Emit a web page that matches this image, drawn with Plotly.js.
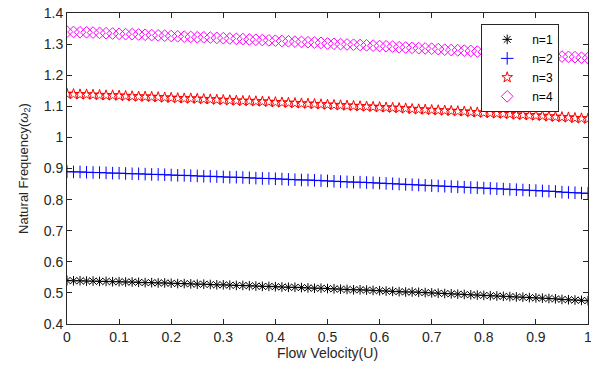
<!DOCTYPE html>
<html><head><meta charset="utf-8">
<script src="https://cdn.plot.ly/plotly-3.0.1.min.js"></script>
<style>html,body{margin:0;padding:0;background:#fff}</style>
</head><body><div id="chart" style="width:591px;height:366px"></div>
<script>
const flowVelocity = [0,0.0125,0.025,0.0375,0.05,0.0625,0.075,0.0875,0.1,0.1125,0.125,0.1375,0.15,0.1625,0.175,0.1875,0.2,0.2125,0.225,0.2375,0.25,0.2625,0.275,0.2875,0.3,0.3125,0.325,0.3375,0.35,0.3625,0.375,0.3875,0.4,0.4125,0.425,0.4375,0.45,0.4625,0.475,0.4875,0.5,0.5125,0.525,0.5375,0.55,0.5625,0.575,0.5875,0.6,0.6125,0.625,0.6375,0.65,0.6625,0.675,0.6875,0.7,0.7125,0.725,0.7375,0.75,0.7625,0.775,0.7875,0.8,0.8125,0.825,0.8375,0.85,0.8625,0.875,0.8875,0.9,0.9125,0.925,0.9375,0.95,0.9625,0.975,0.9875,1];
const freqN1 = [0.540,0.539,0.539,0.538,0.538,0.537,0.537,0.536,0.536,0.535,0.535,0.534,0.533,0.533,0.532,0.532,0.531,0.530,0.530,0.529,0.528,0.528,0.527,0.526,0.526,0.525,0.524,0.524,0.523,0.522,0.521,0.521,0.520,0.519,0.518,0.518,0.517,0.516,0.515,0.515,0.514,0.513,0.512,0.511,0.510,0.510,0.509,0.508,0.507,0.506,0.505,0.504,0.503,0.503,0.502,0.501,0.500,0.499,0.498,0.497,0.496,0.495,0.494,0.493,0.492,0.491,0.490,0.489,0.488,0.487,0.486,0.485,0.484,0.483,0.482,0.481,0.479,0.478,0.477,0.476,0.475];
const freqN2 = [0.890,0.889,0.889,0.888,0.887,0.887,0.886,0.885,0.885,0.884,0.883,0.883,0.882,0.881,0.881,0.880,0.879,0.878,0.878,0.877,0.876,0.875,0.875,0.874,0.873,0.872,0.872,0.871,0.870,0.869,0.868,0.868,0.867,0.866,0.865,0.864,0.863,0.863,0.862,0.861,0.860,0.859,0.858,0.857,0.856,0.856,0.855,0.854,0.853,0.852,0.851,0.850,0.849,0.848,0.847,0.846,0.845,0.844,0.843,0.842,0.841,0.840,0.839,0.838,0.837,0.836,0.835,0.834,0.833,0.832,0.831,0.830,0.829,0.828,0.827,0.826,0.824,0.823,0.822,0.821,0.820];
const freqN3 = [1.140,1.139,1.138,1.138,1.137,1.136,1.135,1.135,1.134,1.133,1.132,1.131,1.131,1.130,1.129,1.128,1.127,1.126,1.125,1.125,1.124,1.123,1.122,1.121,1.120,1.119,1.118,1.117,1.117,1.116,1.115,1.114,1.113,1.112,1.111,1.110,1.109,1.108,1.107,1.106,1.105,1.104,1.103,1.102,1.101,1.100,1.099,1.098,1.097,1.096,1.095,1.094,1.093,1.091,1.090,1.089,1.088,1.087,1.086,1.085,1.084,1.083,1.081,1.080,1.079,1.078,1.077,1.076,1.075,1.073,1.072,1.071,1.070,1.069,1.067,1.066,1.065,1.064,1.062,1.061,1.060];
const freqN4 = [1.340,1.339,1.338,1.338,1.337,1.336,1.335,1.334,1.333,1.332,1.332,1.331,1.330,1.329,1.328,1.327,1.326,1.325,1.324,1.323,1.322,1.322,1.321,1.320,1.319,1.318,1.317,1.316,1.315,1.314,1.313,1.312,1.311,1.310,1.309,1.308,1.307,1.306,1.305,1.304,1.302,1.301,1.300,1.299,1.298,1.297,1.296,1.295,1.294,1.293,1.292,1.290,1.289,1.288,1.287,1.286,1.285,1.284,1.282,1.281,1.280,1.279,1.278,1.276,1.275,1.274,1.273,1.272,1.270,1.269,1.268,1.267,1.265,1.264,1.263,1.261,1.260,1.259,1.258,1.256,1.255];
const seriesNames = ['n=1','n=2','n=3','n=4'];
const xTicks = [0,0.1,0.2,0.3,0.4,0.5,0.6,0.7,0.8,0.9,1];
const xTickLabels = ['0','0.1','0.2','0.3','0.4','0.5','0.6','0.7','0.8','0.9','1'];
const yTicks = [0.4,0.5,0.6,0.7,0.8,0.9,1,1.1,1.2,1.3,1.4];
const yTickLabels = ['0.4','0.5','0.6','0.7','0.8','0.9','1','1.1','1.2','1.3','1.4'];

const styles = [
  {symbol:'asterisk-open', color:'#000000', size:8},
  {symbol:'cross-thin-open', color:'#0000ff', size:9},
  {symbol:'star-open', color:'#ff0000', size:8},
  {symbol:'diamond-open', color:'#ff00ff', size:9}
];
const ys = [freqN1, freqN2, freqN3, freqN4];
const traces = ys.map((y,i)=>({
  x: flowVelocity, y: y, name: seriesNames[i], type:'scatter', mode:'markers',
  marker:{symbol:styles[i].symbol, size:styles[i].size, color:styles[i].color, line:{color:styles[i].color, width:1}}
}));

const fam = 'Liberation Sans, Arial, sans-serif';
const axisCommon = {
  showline:true, linecolor:'#262626', linewidth:1, mirror:'ticks',
  ticks:'inside', ticklen:5, tickcolor:'#262626', showgrid:false, zeroline:false,
  tickfont:{family:fam, size:14, color:'#262626'}
};
const layout = {
  width:591, height:366,
  margin:{l:67, r:3, t:13, b:42},
  paper_bgcolor:'#ffffff', plot_bgcolor:'#ffffff',
  showlegend:true,
  xaxis: Object.assign({}, axisCommon, {
    range:[0,1], tickvals:xTicks, ticktext:xTickLabels, ticklabeloverflow:'allow',
    title:{text:'Flow Velocity(U)', font:{family:fam, size:14, color:'#262626'}, standoff:3}
  }),
  yaxis: Object.assign({}, axisCommon, {
    range:[0.4,1.4], tickvals:yTicks, ticktext:yTickLabels,
    title:{text:'Natural Frequency(<i>ω</i><sub>2</sub>)', font:{family:fam, size:13, color:'#262626'}, standoff:12}
  }),
  legend:{
    x:0.795, y:0.965, xanchor:'left', yanchor:'top',
    bgcolor:'#ffffff', bordercolor:'#262626', borderwidth:1,
    font:{family:fam, size:12, color:'#000000'},
    itemwidth:40, tracegroupgap:0
  }
};
Plotly.newPlot('chart', traces, layout, {displayModeBar:false, staticPlot:true});
</script>
</body></html>
